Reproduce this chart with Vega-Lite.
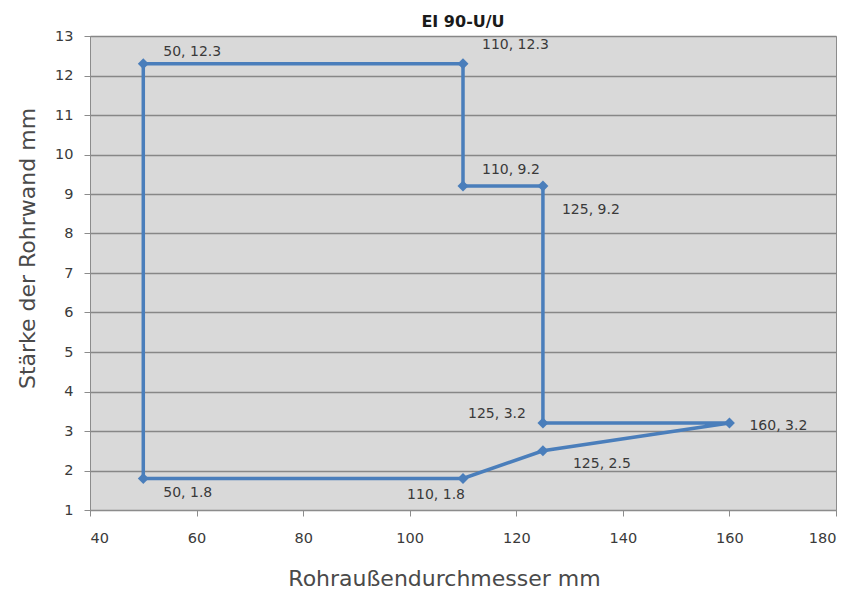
{
  "$schema": "https://vega.github.io/schema/vega-lite/v6.json",
  "width": 746,
  "height": 474,
  "autosize": {"type": "none"},
  "padding": {"left": 90, "top": 36, "right": 21, "bottom": 80},
  "background": "white",
  "config": {
    "font": "DejaVu Sans",
    "view": {"fill": "#d9d9d9", "stroke": "#8c8c8c", "strokeWidth": 1},
    "axis": {
      "domainColor": "#8c8c8c",
      "tickColor": "#8c8c8c",
      "gridColor": "#878787",
      "gridWidth": 1.3,
      "labelColor": "#3a3a3a",
      "labelFontSize": 14.5,
      "titleColor": "#4a4a4a",
      "titleFontWeight": "normal",
      "titleFontSize": 22,
      "tickSize": 6
    }
  },
  "title": {
    "text": "EI 90-U/U",
    "font": "DejaVu Sans",
    "fontSize": 16,
    "fontWeight": "bold",
    "color": "#1a1a1a",
    "anchor": "middle",
    "offset": -2
  },
  "data": {
    "values": [
      {"o": 0, "d": 50, "s": 1.8},
      {"o": 1, "d": 50, "s": 12.3},
      {"o": 2, "d": 110, "s": 12.3},
      {"o": 3, "d": 110, "s": 9.2},
      {"o": 4, "d": 125, "s": 9.2},
      {"o": 5, "d": 125, "s": 3.2},
      {"o": 6, "d": 160, "s": 3.2},
      {"o": 7, "d": 125, "s": 2.5},
      {"o": 8, "d": 110, "s": 1.8},
      {"o": 9, "d": 50, "s": 1.8}
    ]
  },
  "encoding": {
    "x": {
      "field": "d", "type": "quantitative",
      "scale": {"domain": [40, 180], "nice": false, "zero": false},
      "axis": {
        "values": [40, 60, 80, 100, 120, 140, 160, 180], "grid": false,
        "title": "Rohraußendurchmesser mm", "labelPadding": 15,
        "titleX": 354, "titleY": 75, "titleAlign": "center", "titleBaseline": "alphabetic"
      }
    },
    "y": {
      "field": "s", "type": "quantitative",
      "scale": {"domain": [1, 13], "nice": false, "zero": false},
      "axis": {
        "values": [1, 2, 3, 4, 5, 6, 7, 8, 9, 10, 11, 12, 13], "grid": true,
        "title": "Stärke der Rohrwand mm", "labelPadding": 11,
        "titleX": -56, "titleY": 212, "titleAlign": "center", "titleBaseline": "alphabetic", "titleAngle": -90
      }
    }
  },
  "layer": [
    {
      "mark": {"type": "line", "color": "#4a7ebb", "strokeWidth": 3.5},
      "encoding": {"order": {"field": "o", "type": "quantitative"}}
    },
    {
      "transform": [{"filter": "datum.o < 9"}],
      "mark": {"type": "point", "shape": "diamond", "filled": true, "color": "#4a7ebb", "opacity": 1, "size": 120}
    },
    {
      "transform": [{"filter": "datum.o == 1"}, {"calculate": "datum.d + ', ' + format(datum.s, '.1f')", "as": "lab"}],
      "mark": {"type": "text", "align": "left", "dx": 20, "dy": -12, "fontSize": 14, "color": "#3a3a3a"},
      "encoding": {"text": {"field": "lab"}}
    },
    {
      "transform": [{"filter": "datum.o == 2"}, {"calculate": "datum.d + ', ' + format(datum.s, '.1f')", "as": "lab"}],
      "mark": {"type": "text", "align": "left", "dx": 19, "dy": -19, "fontSize": 14, "color": "#3a3a3a"},
      "encoding": {"text": {"field": "lab"}}
    },
    {
      "transform": [{"filter": "datum.o == 3"}, {"calculate": "datum.d + ', ' + format(datum.s, '.1f')", "as": "lab"}],
      "mark": {"type": "text", "align": "left", "dx": 19, "dy": -16, "fontSize": 14, "color": "#3a3a3a"},
      "encoding": {"text": {"field": "lab"}}
    },
    {
      "transform": [{"filter": "datum.o == 4"}, {"calculate": "datum.d + ', ' + format(datum.s, '.1f')", "as": "lab"}],
      "mark": {"type": "text", "align": "left", "dx": 19, "dy": 24, "fontSize": 14, "color": "#3a3a3a"},
      "encoding": {"text": {"field": "lab"}}
    },
    {
      "transform": [{"filter": "datum.o == 5"}, {"calculate": "datum.d + ', ' + format(datum.s, '.1f')", "as": "lab"}],
      "mark": {"type": "text", "align": "right", "dx": -17, "dy": -9, "fontSize": 14, "color": "#3a3a3a"},
      "encoding": {"text": {"field": "lab"}}
    },
    {
      "transform": [{"filter": "datum.o == 6"}, {"calculate": "datum.d + ', ' + format(datum.s, '.1f')", "as": "lab"}],
      "mark": {"type": "text", "align": "left", "dx": 20, "dy": 3, "fontSize": 14, "color": "#3a3a3a"},
      "encoding": {"text": {"field": "lab"}}
    },
    {
      "transform": [{"filter": "datum.o == 7"}, {"calculate": "datum.d + ', ' + format(datum.s, '.1f')", "as": "lab"}],
      "mark": {"type": "text", "align": "left", "dx": 30, "dy": 13, "fontSize": 14, "color": "#3a3a3a"},
      "encoding": {"text": {"field": "lab"}}
    },
    {
      "transform": [{"filter": "datum.o == 8"}, {"calculate": "datum.d + ', ' + format(datum.s, '.1f')", "as": "lab"}],
      "mark": {"type": "text", "align": "right", "dx": 2, "dy": 17, "fontSize": 14, "color": "#3a3a3a"},
      "encoding": {"text": {"field": "lab"}}
    },
    {
      "transform": [{"filter": "datum.o == 0"}, {"calculate": "datum.d + ', ' + format(datum.s, '.1f')", "as": "lab"}],
      "mark": {"type": "text", "align": "left", "dx": 20, "dy": 15, "fontSize": 14, "color": "#3a3a3a"},
      "encoding": {"text": {"field": "lab"}}
    }
  ]
}
